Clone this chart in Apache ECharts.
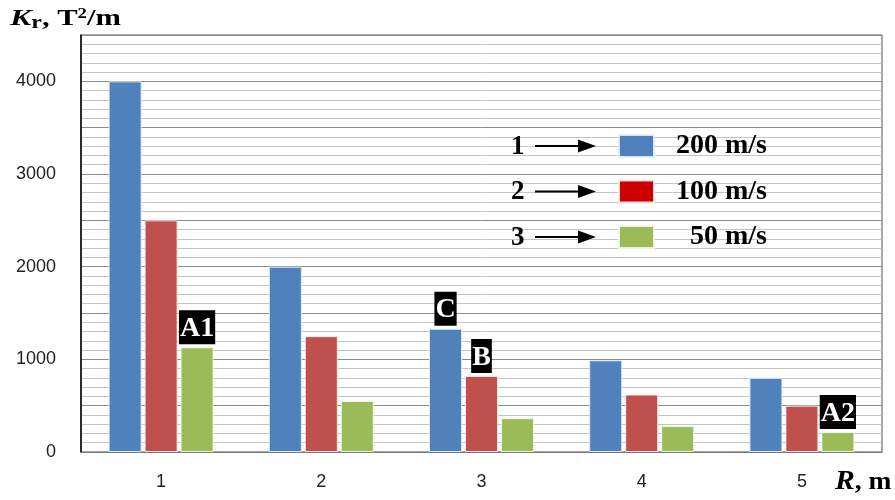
<!DOCTYPE html>
<html>
<head>
<meta charset="utf-8">
<script src="https://cdn.jsdelivr.net/npm/echarts@6/dist/echarts.min.js"></script>
<style>html,body{margin:0;padding:0;background:#fff;}#c{width:895px;height:500px;}</style>
</head>
<body>
<div id="c"></div>
<script>
const categories = ['1', '2', '3', '4', '5'];
const seriesNames = ['200 m/s', '100 m/s', '50 m/s'];
const v200 = [4000, 2000, 1330, 990, 800];
const v100 = [2500, 1250, 820, 620, 500];
const v50 = [1130, 550, 365, 280, 215];
const tags200 = ['', '', 'C', '', ''];
const tags100 = ['', '', 'B', '', ''];
const tags50 = ['A1', '', '', '', 'A2'];
const legendNums = ['1', '2', '3'];
const yTicks = [0, 1000, 2000, 3000, 4000];

const barColors = ['#4f81bd', '#c0504d', '#9bbb59'];
const legendColors = ['#4f81bd', '#cc0000', '#9bbb59'];
const serif = '"Liberation Serif", "DejaVu Serif", serif';

function mkData(vals, tags) {
  return vals.map((v, i) => {
    if (!tags[i]) return v;
    return {
      value: v,
      label: {
        show: true, position: 'top', distance: 3,
        formatter: tags[i],
        color: '#fff', backgroundColor: '#000',
        fontFamily: serif, fontWeight: 'bold', fontSize: 28,
        padding: [5, 1, 2, 1], lineHeight: 27
      }
    };
  });
}

const chart = echarts.init(document.getElementById('c'));
const rowTop = 146, legendGap = 45.5;
const graphics = [];
legendNums.forEach((n, i) => {
  const cy = rowTop + i * legendGap;
  graphics.push({ type: 'text', x: 511, y: cy + 1, z: 10,
    style: { text: n, fontFamily: serif, fontWeight: 'bold', fontSize: 27, fill: '#000', verticalAlign: 'middle' } });
  graphics.push({ type: 'line', z: 10, shape: { x1: 535, y1: cy, x2: 582, y2: cy },
    style: { stroke: '#000', lineWidth: 2 } });
  graphics.push({ type: 'polygon', z: 10, shape: { points: [[578, cy - 6.5], [596, cy], [578, cy + 6.5]] },
    style: { fill: '#000' } });
});
graphics.push({ type: 'text', x: 10, y: 6, z: 10, scaleX: 1.33,
  style: {
    text: '{k|K}{r|r}{t|, T}{s|2}{t|/m}',
    rich: {
      k: { fontFamily: serif, fontStyle: 'italic', fontWeight: 'bold', fontSize: 24, fill: '#000' },
      r: { fontFamily: serif, fontWeight: 'bold', fontSize: 18, fill: '#000', padding: [8, 0, 0, 0] },
      t: { fontFamily: serif, fontWeight: 'bold', fontSize: 23, fill: '#000' },
      s: { fontFamily: serif, fontWeight: 'bold', fontSize: 14, fill: '#000', padding: [0, 0, 10, 0] }
    }
  } });
graphics.push({ type: 'text', x: 835, y: 469, z: 10, scaleX: 1.1,
  style: {
    text: '{k|R}{t|, m}',
    rich: {
      k: { fontFamily: serif, fontStyle: 'italic', fontWeight: 'bold', fontSize: 27, fill: '#000' },
      t: { fontFamily: serif, fontWeight: 'bold', fontSize: 25, fill: '#000' }
    }
  } });

chart.setOption({
  animation: false,
  backgroundColor: '#fff',
  grid: { left: 81, right: 13, top: 35, bottom: 48, show: true, borderColor: '#555', borderWidth: 1, backgroundColor: '#fff' },
  legend: {
    orient: 'vertical', left: 618, top: rowTop - 14, padding: 0,
    itemWidth: 35, itemHeight: 22, itemGap: 17.5,
    icon: 'rect',
    data: seriesNames.map((n, i) => ({ name: n, itemStyle: { color: legendColors[i] } })),
    formatter: n => '{a|' + n + '}',
    textStyle: {
      rich: { a: { fontFamily: serif, fontWeight: 'bold', fontSize: 28, color: '#000', width: 108, align: 'right' } }
    }
  },
  xAxis: {
    type: 'category', data: categories,
    axisLine: { show: true, lineStyle: { color: '#777' } },
    axisTick: { show: false },
    axisLabel: { fontFamily: '"Liberation Sans", Arial, sans-serif', fontSize: 18, color: '#222', margin: 21 },
    splitLine: { show: false }
  },
  yAxis: {
    type: 'value', min: 0, max: 4500, interval: 500,
    axisLine: { show: true, lineStyle: { color: '#000', width: 1.5 } },
    axisTick: { show: false },
    axisLabel: {
      fontFamily: '"Liberation Sans", Arial, sans-serif', fontSize: 18, color: '#222', margin: 25,
      formatter: v => (yTicks.indexOf(v) >= 0 ? String(v) : '')
    },
    splitLine: { show: true, lineStyle: { color: '#8a8a8a', width: 1 } },
    minorTick: { show: false, splitNumber: 5 },
    minorSplitLine: { show: true, lineStyle: { color: '#c4c4c4', width: 1 } }
  },
  series: [
    { name: seriesNames[0], type: 'bar', data: mkData(v200, tags200), barWidth: 33, barGap: '9%', barCategoryGap: '35%',
      itemStyle: { color: barColors[0], borderColor: 'rgba(230,240,250,0.9)', borderWidth: 1 } },
    { name: seriesNames[1], type: 'bar', data: mkData(v100, tags100), barWidth: 33, barGap: '9%',
      itemStyle: { color: barColors[1], borderColor: 'rgba(250,235,235,0.9)', borderWidth: 1 } },
    { name: seriesNames[2], type: 'bar', data: mkData(v50, tags50), barWidth: 33, barGap: '9%',
      itemStyle: { color: barColors[2], borderColor: 'rgba(245,250,230,0.9)', borderWidth: 1 } }
  ],
  graphic: graphics
});
</script>
</body>
</html>
